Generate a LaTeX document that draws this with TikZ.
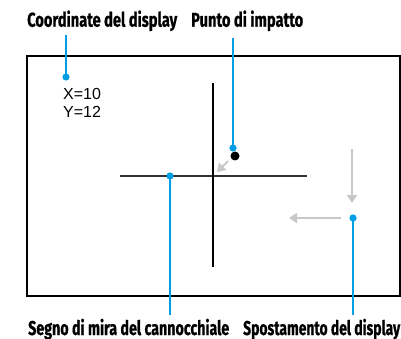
\documentclass[tikz,border=0pt]{standalone}
\usepackage{fontspec}
\usepackage{graphicx}
\setmainfont{Liberation Sans}
\newfontfamily\labfont[BoldFeatures={FakeBold=0.8}]{Fira Sans}
\usetikzlibrary{arrows.meta}
\definecolor{callblue}{HTML}{009FE3}
\definecolor{arrgray}{HTML}{C8C8C8}
\definecolor{crossgray}{HTML}{333333}
\newcommand{\lab}[2]{\resizebox{#1}{\height}{\labfont\bfseries\fontsize{20}{20}\selectfont #2}}
\tikzset{
  labeltext/.style={inner sep=0pt, anchor=base west},
  coordtext/.style={inner sep=0pt, anchor=base west, font=\fontsize{16}{16}\selectfont},
  callout/.style={draw=callblue, line width=2pt},
  calldot/.style={fill=callblue},
  grayarrow/.style={draw=arrgray, line width=2pt, -{Triangle[length=8pt,width=10pt]}},
}
\begin{document}
\begin{tikzpicture}[x=1pt,y=-1pt]
\useasboundingbox (0,0) rectangle (401,339);
\fill[white] (0,0) rectangle (401,339);
% display box
\draw[line width=2pt] (27,56) rectangle (400,296);
% labels
\node[labeltext] (lcoord) at (27,26.7) {\lab{150pt}{Coordinate del display}};
\node[labeltext] (limp) at (191,26.7) {\lab{112pt}{Punto di impatto}};
\node[labeltext] (lsegno) at (28,335) {\lab{201pt}{Segno di mira del cannocchiale}};
\node[labeltext] (lspost) at (243,335) {\lab{157pt}{Spostamento del display}};
% coordinates text
\node[coordtext] (xval) at (63,99.5) {X=10};
\node[coordtext] (yval) at (63,118) {Y=12};
% crosshair
\draw[crossgray, line width=1.3pt] (120,176) -- (307,176);
\draw[black, line width=1.2pt] (213,83) -- (213,267);
% impact point
\coordinate (impact) at (235,156);
\fill (impact) circle (4.5);
% gray arrows
\coordinate (d1) at (228,161);
\coordinate (d2) at (217,172);
\draw[grayarrow] (d1) -- (d2);
\coordinate (v1) at (352,149);
\coordinate (v2) at (352,203);
\draw[grayarrow] (v1) -- (v2);
\coordinate (h1) at (341,218);
\coordinate (h2) at (289,218);
\draw[grayarrow] (h1) -- (h2);
% callouts
\coordinate (c1top) at (66,35);
\coordinate (c1dot) at (66,77);
\draw[callout] (c1top) -- (c1dot);
\fill[calldot] (c1dot) circle (3.6);
\coordinate (c2top) at (233,38);
\coordinate (c2dot) at (233,148);
\draw[callout] (c2top) -- (c2dot);
\fill[calldot] (c2dot) circle (3.6);
\coordinate (c3dot) at (170,176);
\coordinate (c3bot) at (170,315);
\draw[callout] (c3dot) -- (c3bot);
\fill[calldot] (c3dot) circle (3.6);
\coordinate (c4dot) at (353,218);
\coordinate (c4bot) at (353,315);
\draw[callout] (c4dot) -- (c4bot);
\fill[calldot] (c4dot) circle (3.6);
\end{tikzpicture}
\end{document}
